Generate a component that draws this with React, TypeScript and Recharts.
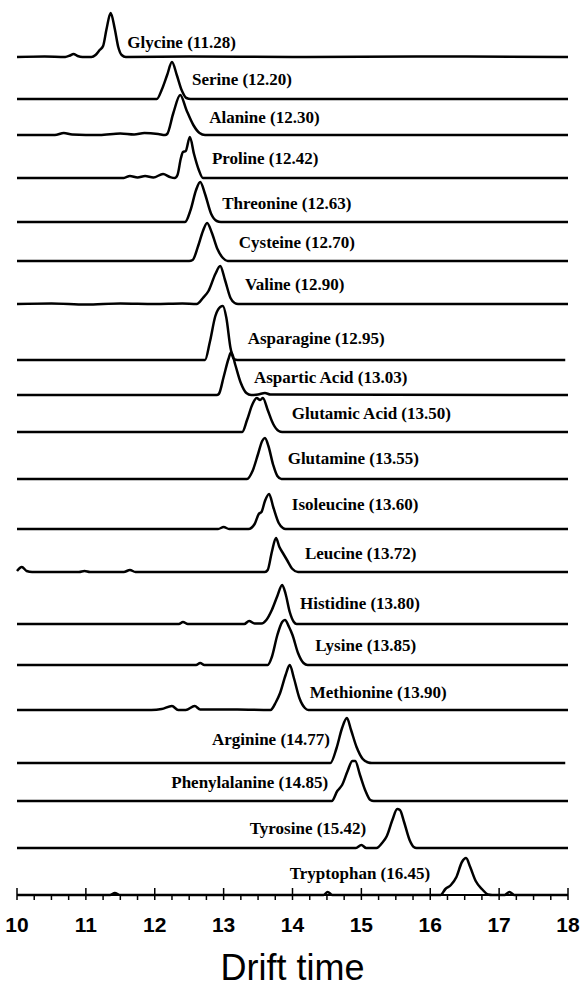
import React from 'react';
import { LineChart, Line, XAxis, YAxis, ReferenceDot } from 'recharts';

// drift time vs. intensity for each amino acid
const glycine = [[10, 0], [10.4, 0.5], [10.7, 0], [10.77, 1.5], [10.82, 3], [10.88, 1], [10.95, 0], [11.08, 0], [11.14, 2], [11.2, 7], [11.25, 11], [11.3, 28], [11.36, 44], [11.42, 28], [11.47, 10], [11.52, 2], [11.58, 0], [12.5, 0.5], [14, 0], [16, 0.5], [18, 0]];
const serine = [[10, 0], [11.5, 0], [12.03, 0], [12.1, 9], [12.18, 24], [12.25, 37], [12.32, 24], [12.39, 9], [12.46, 1], [12.52, 0], [18, 0]];
const alanine = [[10, 0], [10.55, 0], [10.68, 2], [10.8, 0.5], [11.2, 0], [11.5, 1.5], [11.7, 0.5], [11.85, 2], [12.05, 1], [12.15, 0], [12.18, 1], [12.27, 22], [12.37, 40], [12.46, 25], [12.56, 10], [12.65, 2], [12.73, 0], [18, 0]];
const proline = [[10, 0], [11.55, 0], [11.64, 2], [11.75, 0.5], [11.86, 2], [11.98, 0.5], [12.12, 4], [12.22, 1], [12.29, 0], [12.33, 3], [12.38, 20], [12.41, 26], [12.45, 27], [12.51, 41], [12.57, 24], [12.64, 8], [12.7, 0], [18, 0]];
const threonine = [[10, 0], [12.44, 0], [12.52, 12], [12.6, 32], [12.66, 40], [12.73, 28], [12.82, 8], [12.9, 1], [12.96, 0], [18, 0]];
const cysteine = [[10, 0], [12.5, 0], [12.55, 1], [12.63, 15], [12.7, 30], [12.76, 38], [12.83, 28], [12.91, 12], [12.99, 3], [13.06, 0], [18, 0]];
const valine = [[10, 0], [10.5, 0.5], [11, -0.5], [11.5, 0.5], [12, 0], [12.4, 0.5], [12.61, 0], [12.7, 6], [12.78, 13], [12.88, 30], [12.95, 38], [13.02, 24], [13.1, 6], [13.16, 1], [13.21, 0], [18, 0]];
const asparagine = [[10, 0], [12.73, 0], [12.8, 18], [12.88, 44], [12.95, 53], [12.99, 54], [13.04, 42], [13.1, 12], [13.15, 1], [13.2, 0], [17.96, 0]];
const asparticAcid = [[10, 0], [12.9, 0], [12.93, 1], [13.0, 18], [13.07, 36], [13.11, 43], [13.17, 30], [13.25, 12], [13.33, 2], [13.4, 0], [13.5, 0.5], [13.6, 2], [13.68, 0.5], [18, 0]];
const glutamicAcid = [[10, 0], [13.27, 0], [13.34, 12], [13.42, 28], [13.48, 34], [13.53, 32], [13.57, 34], [13.64, 22], [13.72, 8], [13.8, 1], [13.85, 0], [18, 0]];
const glutamine = [[10, 0], [13.34, 0], [13.42, 8], [13.5, 25], [13.56, 38], [13.6, 41], [13.65, 33], [13.72, 14], [13.78, 3], [13.84, 0], [18, 0]];
const isoleucine = [[10, 0], [12.92, 0], [13.0, 2], [13.08, 0], [13.36, 0], [13.45, 5], [13.51, 15], [13.55, 17], [13.6, 28], [13.66, 35], [13.72, 22], [13.8, 6], [13.86, 1], [13.9, 0], [18, 0]];
const leucine = [[10, 1], [10.07, 5], [10.14, 1], [10.22, 0], [10.9, 0], [10.98, 1], [11.06, 0], [11.55, 0], [11.64, 2], [11.72, 0], [13.6, 0], [13.64, 2], [13.7, 20], [13.76, 34], [13.81, 25], [13.86, 19], [13.92, 12], [14.0, 3], [14.08, 0], [18, 0]];
const histidine = [[10, 0], [12.35, 0], [12.41, 2], [12.48, 0], [13.3, 0], [13.37, 3], [13.45, 0.5], [13.55, 0.5], [13.62, 4], [13.7, 14], [13.78, 28], [13.85, 39], [13.9, 30], [13.96, 12], [14.02, 2], [14.06, 0], [18, 0]];
const lysine = [[10, 0], [12.6, 0], [12.66, 2], [12.72, 0], [13.64, 0], [13.7, 8], [13.78, 30], [13.85, 43], [13.89, 45], [13.95, 38], [14.0, 30], [14.08, 12], [14.16, 2], [14.22, 0], [18, 0]];
const methionine = [[10, 0], [11.95, 0], [12.1, 1], [12.25, 4], [12.34, 0], [12.45, 0], [12.58, 4], [12.66, 0.5], [13.2, 0.5], [13.68, 0], [13.76, 8], [13.82, 17], [13.9, 35], [13.96, 45], [14.02, 32], [14.1, 12], [14.18, 2], [14.23, 0], [18, 0]];
const arginine = [[10, 0], [14.55, 0], [14.64, 15], [14.72, 35], [14.79, 45], [14.85, 33], [14.93, 16], [15.02, 4], [15.1, 0.5], [15.15, 0], [17.96, 0]];
const phenylalanine = [[10, 0], [14.57, 0], [14.65, 10], [14.72, 16], [14.8, 30], [14.87, 40], [14.91, 40], [14.98, 26], [15.06, 10], [15.13, 1], [15.18, 0], [18, 0]];
const tyrosine = [[10, 0], [14.92, 0], [15.0, 3], [15.07, 0], [15.22, 0], [15.3, 5], [15.37, 12], [15.45, 28], [15.52, 39], [15.56, 38], [15.62, 26], [15.7, 8], [15.76, 1], [15.8, 0], [18, 0]];
const tryptophan = [[10, 0], [11.35, 0], [11.42, 2], [11.5, 0], [14.45, 0], [14.51, 3], [14.58, 0], [16.15, 0], [16.22, 6], [16.3, 10], [16.38, 18], [16.46, 33], [16.52, 37], [16.58, 28], [16.66, 14], [16.75, 6], [16.84, 0.5], [16.9, 0], [17.08, 0], [17.15, 3], [17.22, 0], [18, 0]];

const names = ['Glycine', 'Serine', 'Alanine', 'Proline', 'Threonine', 'Cysteine', 'Valine', 'Asparagine', 'Aspartic Acid', 'Glutamic Acid', 'Glutamine', 'Isoleucine', 'Leucine', 'Histidine', 'Lysine', 'Methionine', 'Arginine', 'Phenylalanine', 'Tyrosine', 'Tryptophan'];
const driftTimes = [11.28, 12.2, 12.3, 12.42, 12.63, 12.7, 12.9, 12.95, 13.03, 13.5, 13.55, 13.6, 13.72, 13.8, 13.85, 13.9, 14.77, 14.85, 15.42, 16.45];
const traces = [glycine, serine, alanine, proline, threonine, cysteine, valine, asparagine, asparticAcid, glutamicAcid, glutamine, isoleucine, leucine, histidine, lysine, methionine, arginine, phenylalanine, tyrosine, tryptophan];

const majorTicks = [10, 11, 12, 13, 14, 15, 16, 17, 18];

// layout: vertical offset of each trace and where its name sits
const offsets = [838, 796, 760, 717, 673, 634, 591, 535, 500, 463, 416, 366, 323, 271, 230, 185, 132, 94, 47, 0];
const labelAt = [[11.6, 853], [12.54, 816], [12.79, 778], [12.83, 737], [12.98, 692], [13.22, 653], [13.31, 611], [13.35, 557], [13.44, 518], [13.99, 482], [13.93, 437], [13.99, 391], [14.18, 342], [14.11, 292], [14.33, 250], [14.25, 203], [12.83, 156], [12.24, 113], [13.38, 67], [13.96, 22]];

const allTicks = majorTicks.flatMap((m, i) => (i < majorTicks.length - 1 ? [m, m + 0.25, m + 0.5, m + 0.75] : [m]));

const SERIF = "'Liberation Serif', 'Times New Roman', serif";
const SANS = "'Liberation Sans', Arial, sans-serif";

function AxisTick({ x, y, payload }: any) {
  const major = Number.isInteger(payload.value);
  return (
    <g>
      <line x1={x} x2={x} y1={major ? y - 7 : y} y2={y + 5} stroke="#000" strokeWidth={1.5} />
      {major && (
        <text x={x} y={y + 37} textAnchor="middle" style={{ fontFamily: SANS, fontWeight: 'bold', fontSize: 21 }} fill="#000">
          {payload.value}
        </text>
      )}
    </g>
  );
}

const nameLabel = (text: string) => (props: any) => {
  const { x, y } = props.viewBox;
  return (
    <text x={x} y={y} dy="0.35em" fill="#000" style={{ fontFamily: SERIF, fontWeight: 'bold', fontSize: 17 }}>
      {text}
    </text>
  );
};

export default function App() {
  return (
    <div style={{ position: 'absolute', left: 0, top: 0, background: '#fff' }}>
      <LineChart width={583} height={991} margin={{ top: 0, right: 15, left: 17, bottom: 6 }}>
        <XAxis
          type="number"
          dataKey="t"
          domain={[10, 18]}
          ticks={allTicks}
          interval={0}
          tickSize={0}
          tickMargin={0}
          tickLine={false}
          tick={<AxisTick />}
          height={90}
          axisLine={{ stroke: '#000', strokeWidth: 2 }}
          label={{ value: 'Drift time', position: 'insideBottom', offset: 5, fontSize: 36, fill: '#000', style: { fontFamily: SANS } }}
        />
        <YAxis type="number" domain={[0, 895]} hide />
        {traces.map((pts, i) => (
          <Line
            key={names[i]}
            data={pts.map(([t, h]) => ({ t, v: h + offsets[i] }))}
            dataKey="v"
            type="monotone"
            stroke="#000"
            strokeWidth={2.5}
            dot={false}
            activeDot={false}
            isAnimationActive={false}
          />
        ))}
        {names.map((n, i) => (
          <ReferenceDot
            key={`lbl-${n}`}
            x={labelAt[i][0]}
            y={labelAt[i][1]}
            r={0}
            fill="none"
            stroke="none"
            label={nameLabel(`${n} (${driftTimes[i].toFixed(2)})`)}
          />
        ))}
      </LineChart>
    </div>
  );
}
